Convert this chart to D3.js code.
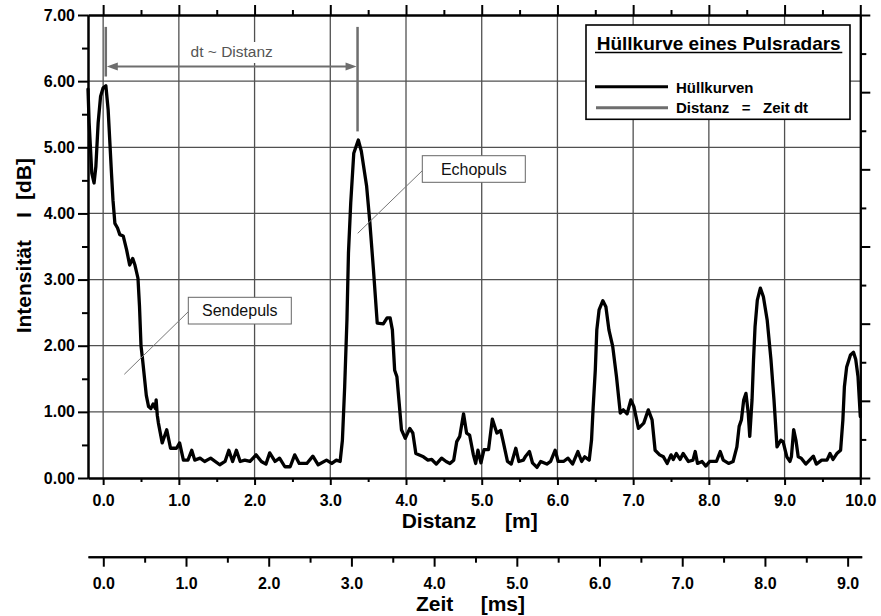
<!DOCTYPE html>
<html>
<head>
<meta charset="utf-8">
<script src="https://cdn.jsdelivr.net/npm/d3@7"></script>
<style>
body { margin: 0; background: #fff; }
svg { display: block; font-family: "Liberation Sans", Arial, sans-serif; }
</style>
</head>
<body>
<svg id="chart" width="881" height="616"></svg>
<script>
// Hüllkurve (envelope): distance in m, intensity in dB
const distM = [
    -0.20, -0.185, -0.15, -0.12, -0.096, -0.066, -0.034, 0.00, 0.036, 0.066,
    0.11, 0.13, 0.155, 0.19, 0.22, 0.265, 0.31, 0.35, 0.39, 0.42,
    0.46, 0.48, 0.50, 0.52, 0.57, 0.60, 0.63, 0.66, 0.69, 0.70,
    0.715, 0.73, 0.78, 0.84, 0.89, 0.97, 1.01, 1.06, 1.12, 1.17,
    1.21, 1.28, 1.34, 1.42, 1.54, 1.61, 1.66, 1.71, 1.76, 1.81,
    1.87, 1.94, 2.02, 2.09, 2.15, 2.20, 2.27, 2.33, 2.40, 2.47,
    2.53, 2.59, 2.69, 2.77, 2.84, 2.95, 3.02, 3.08, 3.13, 3.16,
    3.19, 3.22, 3.24, 3.27, 3.31, 3.37, 3.41, 3.48, 3.52, 3.57,
    3.62, 3.70, 3.75, 3.79, 3.82, 3.85, 3.88, 3.91, 3.94, 3.99,
    4.05, 4.09, 4.13, 4.23, 4.29, 4.34, 4.40, 4.47, 4.53, 4.58,
    4.63, 4.67, 4.71, 4.76, 4.80, 4.84, 4.89, 4.92, 4.95, 4.99,
    5.03, 5.09, 5.14, 5.20, 5.25, 5.28, 5.34, 5.39, 5.45, 5.49,
    5.55, 5.58, 5.63, 5.67, 5.73, 5.78, 5.86, 5.91, 5.97, 6.01,
    6.08, 6.14, 6.20, 6.27, 6.32, 6.36, 6.42, 6.45, 6.47, 6.50,
    6.52, 6.55, 6.60, 6.64, 6.68, 6.73, 6.78, 6.83, 6.87, 6.92,
    6.97, 7.01, 7.07, 7.14, 7.20, 7.25, 7.29, 7.35, 7.40, 7.45,
    7.50, 7.53, 7.57, 7.62, 7.66, 7.73, 7.79, 7.82, 7.85, 7.91,
    7.96, 8.01, 8.10, 8.15, 8.19, 8.26, 8.32, 8.37, 8.40, 8.43,
    8.46, 8.49, 8.52, 8.54, 8.57, 8.59, 8.61, 8.64, 8.68, 8.72,
    8.77, 8.82, 8.86, 8.90, 8.95, 8.98, 9.03, 9.07, 9.09, 9.12,
    9.15, 9.18, 9.22, 9.28, 9.33, 9.38, 9.42, 9.49, 9.56, 9.60,
    9.64, 9.69, 9.74, 9.77, 9.79, 9.82, 9.87, 9.91, 9.94, 9.97,
    10.0
];
const intensityDB = [
    5.88, 5.37, 4.61, 4.46, 4.71, 5.37, 5.77, 5.90, 5.93, 5.57,
    4.61, 4.20, 3.85, 3.78, 3.68, 3.66, 3.45, 3.22, 3.32, 3.22,
    3.02, 2.60, 2.00, 1.80, 1.25, 1.08, 1.05, 1.12, 1.05, 1.18,
    0.95, 0.83, 0.53, 0.73, 0.45, 0.45, 0.53, 0.27, 0.27, 0.42,
    0.27, 0.30, 0.25, 0.30, 0.20, 0.25, 0.42, 0.25, 0.42, 0.25,
    0.27, 0.25, 0.35, 0.25, 0.21, 0.38, 0.25, 0.30, 0.17, 0.17,
    0.35, 0.22, 0.22, 0.33, 0.20, 0.27, 0.22, 0.27, 0.25, 0.57,
    1.38, 2.39, 3.40, 4.16, 4.91, 5.11, 4.94, 4.41, 3.90, 3.15,
    2.34, 2.33, 2.42, 2.42, 2.24, 1.63, 1.53, 1.13, 0.73, 0.60,
    0.75, 0.68, 0.37, 0.32, 0.27, 0.28, 0.21, 0.30, 0.25, 0.22,
    0.27, 0.55, 0.63, 0.97, 0.68, 0.65, 0.35, 0.22, 0.42, 0.23,
    0.43, 0.43, 0.89, 0.68, 0.72, 0.57, 0.25, 0.21, 0.45, 0.25,
    0.27, 0.33, 0.40, 0.23, 0.16, 0.25, 0.21, 0.25, 0.42, 0.25,
    0.25, 0.30, 0.21, 0.40, 0.25, 0.32, 0.27, 0.57, 1.03, 1.63,
    2.24, 2.54, 2.68, 2.59, 2.24, 1.99, 1.53, 0.98, 1.03, 0.97,
    1.18, 1.08, 0.75, 0.83, 1.03, 0.88, 0.42, 0.35, 0.32, 0.22,
    0.35, 0.28, 0.37, 0.28, 0.37, 0.25, 0.27, 0.40, 0.22, 0.25,
    0.18, 0.25, 0.25, 0.40, 0.27, 0.22, 0.25, 0.47, 0.78, 0.88,
    1.18, 1.28, 0.98, 0.63, 1.18, 1.79, 2.29, 2.69, 2.87, 2.74,
    2.39, 1.79, 1.18, 0.47, 0.57, 0.55, 0.32, 0.25, 0.32, 0.73,
    0.57, 0.32, 0.30, 0.21, 0.27, 0.33, 0.21, 0.27, 0.27, 0.37,
    0.28, 0.37, 0.42, 0.88, 1.38, 1.68, 1.86, 1.90, 1.79, 1.53,
    0.93
];

// axis ticks
const distTicks = [0, 1, 2, 3, 4, 5, 6, 7, 8, 9, 10];
const distMinor = [0.5, 1.5, 2.5, 3.5, 4.5, 5.5, 6.5, 7.5, 8.5, 9.5];
const dbTicks = [0, 1, 2, 3, 4, 5, 6, 7];
const dbMinor = [0.5, 1.5, 2.5, 3.5, 4.5, 5.5, 6.5];
const zeitTicks = [0, 1, 2, 3, 4, 5, 6, 7, 8, 9];
const zeitMinor = [0.5, 1.5, 2.5, 3.5, 4.5, 5.5, 6.5, 7.5, 8.5];
const rightTicks = [0, 1, 2, 3, 4, 5, 6, 7, 8, 9, 10, 11, 12];

// dt marker: echo start / end in m, and levels in dB
const dtStart = 0.035, dtEnd = 3.36;
const dtArrowDB = 6.22, dtTopDB = 6.82, dtStartBottomDB = 6.07, dtEndBottomDB = 5.24;

const svg = d3.select("#chart");
const plotLeft = 88, plotRight = 860.3, plotTop = 15, plotBottom = 478;

const x = d3.scaleLinear().domain([-0.2, 10]).range([plotLeft, plotRight]);
const y = d3.scaleLinear().domain([0, 7]).range([plotBottom, plotTop]);
const xZeit = d3.scaleLinear().domain([-0.185, 9.17]).range([plotLeft, 861.7]);
const yRight = d3.scaleLinear().domain([0, 12]).range([plotBottom, plotTop]);

const gridColor = "#505050";
const gray = "#6e6e6e";

// grid
svg.append("g").selectAll("line")
    .data(distTicks.filter(d => d < 10))
    .join("line")
    .attr("x1", d => x(d)).attr("x2", d => x(d))
    .attr("y1", plotTop).attr("y2", plotBottom)
    .attr("stroke", gridColor).attr("stroke-width", 1.3);
svg.append("g").selectAll("line")
    .data(dbTicks.filter(d => d > 0 && d < 7))
    .join("line")
    .attr("x1", plotLeft).attr("x2", plotRight)
    .attr("y1", d => y(d)).attr("y2", d => y(d))
    .attr("stroke", gridColor).attr("stroke-width", 1.3);

function styleAxis(g, size) {
    g.select(".domain").attr("stroke", "#000").attr("stroke-width", 2);
    g.selectAll(".tick line").attr("stroke", "#000").attr("stroke-width", 2);
    g.selectAll("text")
        .attr("fill", "#000")
        .style("font-family", "'Liberation Sans', Arial, sans-serif")
        .style("font-size", size + "px")
        .style("font-weight", "bold");
}

// bottom distance axis
const gx = svg.append("g").attr("transform", `translate(0,${plotBottom})`)
    .call(d3.axisBottom(x).tickValues(distTicks).tickFormat(d3.format(".1f"))
        .tickSize(7).tickSizeOuter(0).tickPadding(9.3));
styleAxis(gx, 16);
const gxm = svg.append("g").attr("transform", `translate(0,${plotBottom})`)
    .call(d3.axisBottom(x).tickValues(distMinor).tickFormat("").tickSize(4).tickSizeOuter(0));
styleAxis(gxm, 16);

// top axis
const gt = svg.append("g").attr("transform", `translate(0,${plotTop})`)
    .call(d3.axisTop(x).tickValues(distTicks).tickFormat("").tickSize(10).tickSizeOuter(0));
styleAxis(gt, 16);
const gtm = svg.append("g").attr("transform", `translate(0,${plotTop})`)
    .call(d3.axisTop(x).tickValues(distMinor).tickFormat("").tickSize(5).tickSizeOuter(0));
styleAxis(gtm, 16);

// left axis
const gy = svg.append("g").attr("transform", `translate(${plotLeft},0)`)
    .call(d3.axisLeft(y).tickValues(dbTicks).tickFormat(d3.format(".2f"))
        .tickSize(10).tickSizeOuter(0).tickPadding(3));
styleAxis(gy, 16);
const gym = svg.append("g").attr("transform", `translate(${plotLeft},0)`)
    .call(d3.axisLeft(y).tickValues(dbMinor).tickFormat("").tickSize(6).tickSizeOuter(0));
styleAxis(gym, 16);

// right axis (unlabelled, 12 divisions)
const gr = svg.append("g").attr("transform", `translate(${plotRight},0)`)
    .call(d3.axisRight(yRight).tickValues(rightTicks.filter(d => d % 2 === 0)).tickFormat("").tickSize(10).tickSizeOuter(0));
styleAxis(gr, 16);
const grm = svg.append("g").attr("transform", `translate(${plotRight},0)`)
    .call(d3.axisRight(yRight).tickValues(rightTicks.filter(d => d % 2 === 1)).tickFormat("").tickSize(6).tickSizeOuter(0));
styleAxis(grm, 16);

// Zeit axis
const zy = 556.7;
const gz = svg.append("g").attr("transform", `translate(0,${zy})`)
    .call(d3.axisBottom(xZeit).tickValues(zeitTicks).tickFormat(d3.format(".1f"))
        .tickSize(10).tickSizeOuter(0).tickPadding(11.2));
styleAxis(gz, 16);
const gzm = svg.append("g").attr("transform", `translate(0,${zy})`)
    .call(d3.axisBottom(xZeit).tickValues(zeitMinor).tickFormat("").tickSize(6).tickSizeOuter(0));
styleAxis(gzm, 16);

// axis titles
const bold = sel => sel.attr("font-weight", "bold").attr("fill", "#000").attr("font-size", 21);
svg.append("text").attr("x", 401.7).attr("y", 528).text("Distanz").call(bold);
svg.append("text").attr("x", 505).attr("y", 528).text("[m]").call(bold);
svg.append("text").attr("x", 416).attr("y", 611).text("Zeit").call(bold);
svg.append("text").attr("x", 480.7).attr("y", 611).text("[ms]").call(bold);
const yt = svg.append("g").attr("transform", "translate(31,333.3) rotate(-90)");
yt.append("text").attr("x", 0).text("Intensität").call(bold);
yt.append("text").attr("x", 115.3).text("I").call(bold);
yt.append("text").attr("x", 133.3).text("[dB]").call(bold);

// dt ~ Distanz dimension
svg.append("rect").attr("x", 186).attr("y", 42).attr("width", 92).attr("height", 21).attr("fill", "#fff");
svg.append("text").attr("x", 231.7).attr("y", 57.3).attr("text-anchor", "middle")
    .attr("font-size", 15.5).attr("fill", "#555").text("dt ~ Distanz");
const dim = svg.append("g").attr("stroke", gray).attr("stroke-width", 2.5);
dim.append("line").attr("x1", x(dtStart)).attr("x2", x(dtStart)).attr("y1", y(dtTopDB)).attr("y2", y(dtStartBottomDB));
dim.append("line").attr("x1", x(dtEnd)).attr("x2", x(dtEnd)).attr("y1", y(dtTopDB)).attr("y2", y(dtEndBottomDB));
dim.append("line").attr("x1", x(dtStart) + 8).attr("x2", x(dtEnd) - 8).attr("y1", y(dtArrowDB)).attr("y2", y(dtArrowDB)).attr("stroke-width", 2);
const ay = y(dtArrowDB);
svg.append("path").attr("fill", gray)
    .attr("d", `M${x(dtStart) + 1},${ay} L${x(dtStart) + 12},${ay - 4} L${x(dtStart) + 12},${ay + 4} Z`);
svg.append("path").attr("fill", gray)
    .attr("d", `M${x(dtEnd) - 1},${ay} L${x(dtEnd) - 12},${ay - 4} L${x(dtEnd) - 12},${ay + 4} Z`);

// envelope curve
const line = d3.line().x((d, i) => x(distM[i])).y(d => y(d));
svg.append("path")
    .attr("d", line(intensityDB))
    .attr("fill", "none").attr("stroke", "#000").attr("stroke-width", 3.3)
    .attr("stroke-linejoin", "round").attr("stroke-linecap", "round");

// callouts
function callout(bx, by, bw, bh, lx1, ly1, lx2, ly2, label) {
    svg.append("line").attr("x1", lx1).attr("y1", ly1).attr("x2", lx2).attr("y2", ly2)
        .attr("stroke", "#777").attr("stroke-width", 1);
    svg.append("rect").attr("x", bx).attr("y", by).attr("width", bw).attr("height", bh)
        .attr("fill", "#fff").attr("stroke", "#666").attr("stroke-width", 1);
    svg.append("text").attr("x", bx + bw / 2).attr("y", by + bh / 2 + 5.5)
        .attr("text-anchor", "middle").attr("font-size", 16).attr("fill", "#111").text(label);
}
callout(188.3, 297.3, 103, 26.7, 188.3, 311.7, 124.3, 374.3, "Sendepuls");
callout(422.3, 155.7, 103, 26.6, 422.3, 170.7, 357.7, 233.3, "Echopuls");

// legend
const lg = svg.append("g");
lg.append("rect").attr("x", 586).attr("y", 25).attr("width", 264).attr("height", 94.3)
    .attr("fill", "#fff").attr("stroke", "#000").attr("stroke-width", 1.6);
lg.append("text").attr("x", 718.7).attr("y", 50).attr("text-anchor", "middle")
    .attr("font-size", 19).attr("font-weight", "bold").text("Hüllkurve eines Pulsradars");
lg.append("line").attr("x1", 595).attr("x2", 842.3).attr("y1", 52.6).attr("y2", 52.6)
    .attr("stroke", "#000").attr("stroke-width", 1.5);
lg.append("line").attr("x1", 595).attr("x2", 668).attr("y1", 86.7).attr("y2", 86.7)
    .attr("stroke", "#000").attr("stroke-width", 3);
lg.append("text").attr("x", 676).attr("y", 92.5).attr("font-size", 15).attr("font-weight", "bold").text("Hüllkurven");
lg.append("line").attr("x1", 596).attr("x2", 668).attr("y1", 107.7).attr("y2", 107.7)
    .attr("stroke", gray).attr("stroke-width", 3);
lg.append("text").attr("x", 676).attr("y", 112.5).attr("font-size", 15).attr("font-weight", "bold")
    .attr("xml:space", "preserve").text("Distanz   =   Zeit dt");
</script>
</body>
</html>
